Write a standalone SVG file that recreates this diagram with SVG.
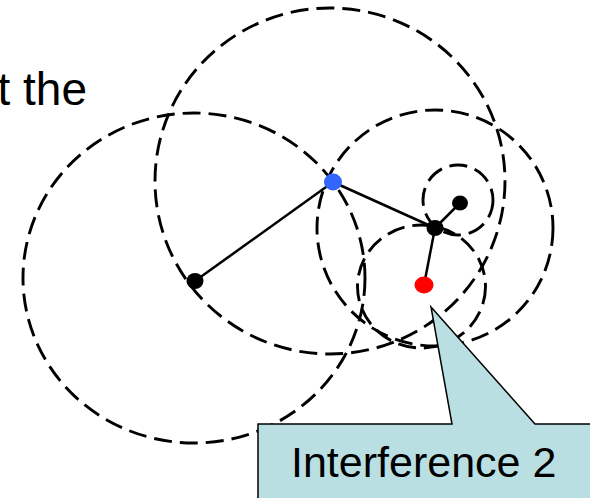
<svg xmlns="http://www.w3.org/2000/svg" width="590" height="498" viewBox="0 0 590 498">
<style>
.rng{fill:none;stroke:#000;stroke-width:2.9;stroke-dasharray:18 8}
.edge{stroke:#000;stroke-width:2.5;fill:none}
.txt{font-family:"Liberation Sans",Arial,sans-serif;fill:#000}
</style>
<rect width="590" height="498" fill="#fff"/>
<text class="txt" x="87" y="105" font-size="46" text-anchor="end">t the</text>
<g id="ranges">
<ellipse class="rng" cx="194" cy="278" rx="171" ry="165"/>
<ellipse class="rng" cx="330" cy="181" rx="175" ry="173"/>
<ellipse class="rng" cx="435" cy="228" rx="118" ry="118"/>
<ellipse class="rng" cx="458" cy="200" rx="35" ry="35"/>
<ellipse class="rng" cx="421.5" cy="286.5" rx="64" ry="61.5"/>
</g>
<g id="connectors">
<line class="edge" x1="333" y1="182" x2="195" y2="281"/>
<line class="edge" x1="333" y1="182" x2="435" y2="228"/>
<line class="edge" x1="435" y1="228" x2="460" y2="203"/>
<line class="edge" x1="435" y1="228" x2="424" y2="285"/>
</g>
<g id="node-left"><ellipse cx="195" cy="281" rx="8.5" ry="8" fill="#000"/></g>
<g id="node-blue"><ellipse cx="333" cy="182" rx="9" ry="8.5" fill="#3366FF"/></g>
<g id="node-mid"><ellipse cx="435" cy="228" rx="8.5" ry="8" fill="#000"/></g>
<g id="node-small"><ellipse cx="460" cy="203" rx="8" ry="7.5" fill="#000"/></g>
<g id="node-red"><ellipse cx="424" cy="285" rx="9.5" ry="8.5" fill="#FF0000"/></g>
<g id="callout">
<path d="M258,424 L452,424 L431,307 L535,424 L600,424 L600,510 L258,510 Z" fill="#BADFE2" stroke="#000" stroke-width="1.5"/>
<text class="txt" x="291" y="477" font-size="43">Interference 2</text>
</g>
</svg>
